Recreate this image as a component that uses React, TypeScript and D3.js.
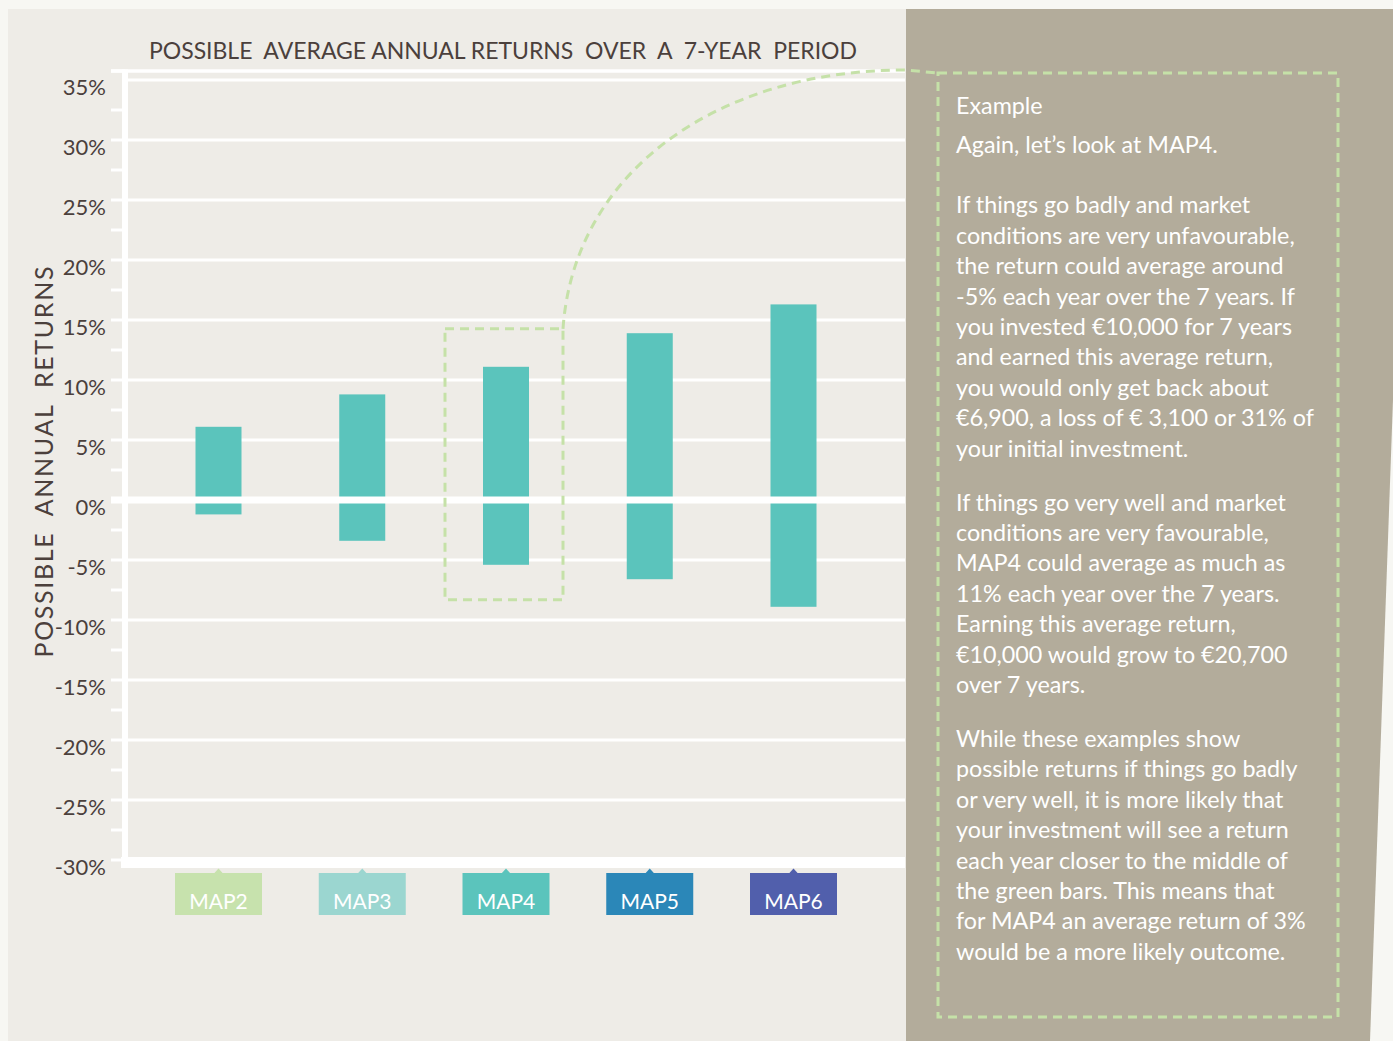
import { useMemo } from 'react'
import { scaleLinear, scalePoint, range, path } from 'd3'

const funds = ['MAP2', 'MAP3', 'MAP4', 'MAP5', 'MAP6']
const lowReturns = [-1.2, -3.4, -5.4, -6.6, -8.9]
const highReturns = [6.1, 8.8, 11.1, 13.9, 16.3]
const fundColors = ['#c7e2ad', '#9bd6d0', '#5bc4bc', '#2b87b8', '#515fac']
const yTicks = range(-30, 36, 5)

const title = 'POSSIBLE  AVERAGE ANNUAL RETURNS  OVER  A  7-YEAR  PERIOD'
const yTitle = 'POSSIBLE  ANNUAL  RETURNS'

const paragraphs = [
  ['Example', 'Again, let\u2019s look at MAP4.'],
  [
    'If things go badly and market',
    'conditions are very unfavourable,',
    'the return could average around',
    '-5% each year over the 7 years. If',
    'you invested \u20ac10,000 for 7 years',
    'and earned this average return,',
    'you would only get back about',
    '\u20ac6,900, a loss of \u20ac 3,100 or 31% of',
    'your initial investment.',
  ],
  [
    'If things go very well and market',
    'conditions are very favourable,',
    'MAP4 could average as much as',
    '11% each year over the 7 years.',
    'Earning this average return,',
    '\u20ac10,000 would grow to \u20ac20,700',
    'over 7 years.',
  ],
  [
    'While these examples show',
    'possible returns if things go badly',
    'or very well, it is more likely that',
    'your investment will see a return',
    'each year closer to the middle of',
    'the green bars. This means that',
    'for MAP4 an average return of 3%',
    'would be a more likely outcome.',
  ],
]

const W = 1393
const H = 1041
const FONT = 'Lato, "Noto Sans", sans-serif'
const INK = '#4b403c'
const GREEN_DASH = '#c5e1a8'

export default function App() {
  const y = useMemo(() => scaleLinear().domain([-30, 35]).range([860, 80]), [])
  const x = useMemo(() => scalePoint<string>().domain(funds).range([218.5, 793.5]), [])

  const axisX = 125
  const plotRight = 905
  const barWidth = 46
  const topY = y(35) - 9

  const highlight = 2
  const boxLeft = x(funds[highlight])! - 61
  const boxRight = x(funds[highlight])! + 57
  const boxTop = y(highReturns[highlight]) - 38
  const boxBottom = y(lowReturns[highlight]) + 35

  const connector = path()
  connector.moveTo(boxRight, boxTop)
  connector.bezierCurveTo(boxRight + 11, 170, 720, topY - 1, plotRight, topY - 1)
  connector.lineTo(938, 73)

  // text lines in the side panel
  const lines: { text: string; y: number }[] = []
  let ly = 114
  paragraphs.forEach((para, pi) => {
    if (pi === 1) ly += 30.5
    if (pi > 1) ly += 23.6
    para.forEach((t, i) => {
      lines.push({ text: t, y: ly })
      ly += pi === 0 && i === 0 ? 38.5 : 30.4
    })
  })

  return (
    <svg
      width={W}
      height={H}
      style={{ position: 'absolute', left: 0, top: 0, fontFamily: FONT }}
    >
      <rect width={W} height={H} fill="#f7f7f3" />
      <rect x={8} y={9} width={898} height={H - 9} fill="#eeece7" />
      <polygon points={`906,9 1407,9 1370,${H} 906,${H}`} fill="#b3ac9b" />

      <text x={149} y={59} fontSize={23} fill={INK} textLength={708} style={{ whiteSpace: 'pre' }}>
        {title}
      </text>

      <text
        transform={`translate(53, 462) rotate(-90)`}
        textAnchor="middle"
        fontSize={25}
        fill={INK}
        textLength={391}
        style={{ whiteSpace: 'pre' }}
      >
        {yTitle}
      </text>

      {/* gridlines */}
      {yTicks.map(t => (
        <line key={t} x1={axisX} x2={plotRight} y1={y(t)} y2={y(t)} stroke="#fff" strokeWidth={3} />
      ))}
      {/* left ticks */}
      {yTicks.map(t => (
        <line key={`t${t}`} x1={111} x2={axisX} y1={t === 35 ? topY : y(t)} y2={t === 35 ? topY : y(t)} stroke="#fff" strokeWidth={3} />
      ))}
      {range(-27.5, 35, 5).map(t => (
        <line key={`m${t}`} x1={111} x2={axisX} y1={y(t)} y2={y(t)} stroke="#fff" strokeWidth={3} />
      ))}
      {yTicks.map(t => (
        <text key={`l${t}`} x={106} y={y(t) + 15} textAnchor="end" fontSize={22} fill={INK}>
          {`${t}%`}
        </text>
      ))}

      {/* bars */}
      {funds.map((f, i) => (
        <rect
          key={f}
          x={x(f)! - barWidth / 2}
          width={barWidth}
          y={y(highReturns[i])}
          height={y(lowReturns[i]) - y(highReturns[i])}
          fill="#5bc4bc"
        />
      ))}

      {/* frame */}
      <line x1={111} x2={plotRight} y1={topY} y2={topY} stroke="#fff" strokeWidth={3.5} />
      <line x1={axisX} x2={axisX} y1={topY - 1.5} y2={868} stroke="#fff" strokeWidth={6} />
      <line x1={111} x2={plotRight} y1={y(0)} y2={y(0)} stroke="#fff" strokeWidth={7} />
      <line x1={121} x2={plotRight} y1={862.5} y2={862.5} stroke="#fff" strokeWidth={11} />

      {/* fund labels */}
      {funds.map((f, i) => {
        const cx = x(f)!
        return (
          <g key={`b${f}`}>
            <path d={`M${cx - 5},874 L${cx},868.5 L${cx + 5},874 Z`} fill={fundColors[i]} />
            <rect x={cx - 43.5} y={873} width={87} height={42} fill={fundColors[i]} />
            <text x={cx} y={909} textAnchor="middle" fontSize={21} fill="#fff">
              {f}
            </text>
          </g>
        )
      })}

      {/* highlight */}
      <rect
        x={boxLeft}
        y={boxTop}
        width={boxRight - boxLeft}
        height={boxBottom - boxTop}
        fill="none"
        stroke={GREEN_DASH}
        strokeWidth={3}
        strokeDasharray="9 6"
      />
      <path d={connector.toString()} fill="none" stroke={GREEN_DASH} strokeWidth={3} strokeDasharray="9 6" />
      <rect x={938} y={73} width={400} height={944} fill="none" stroke={GREEN_DASH} strokeWidth={3} strokeDasharray="9 6" />

      {lines.map((l, i) => (
        <text key={i} x={956} y={l.y} fontSize={23.3} fill="#fff">
          {l.text}
        </text>
      ))}
    </svg>
  )
}
